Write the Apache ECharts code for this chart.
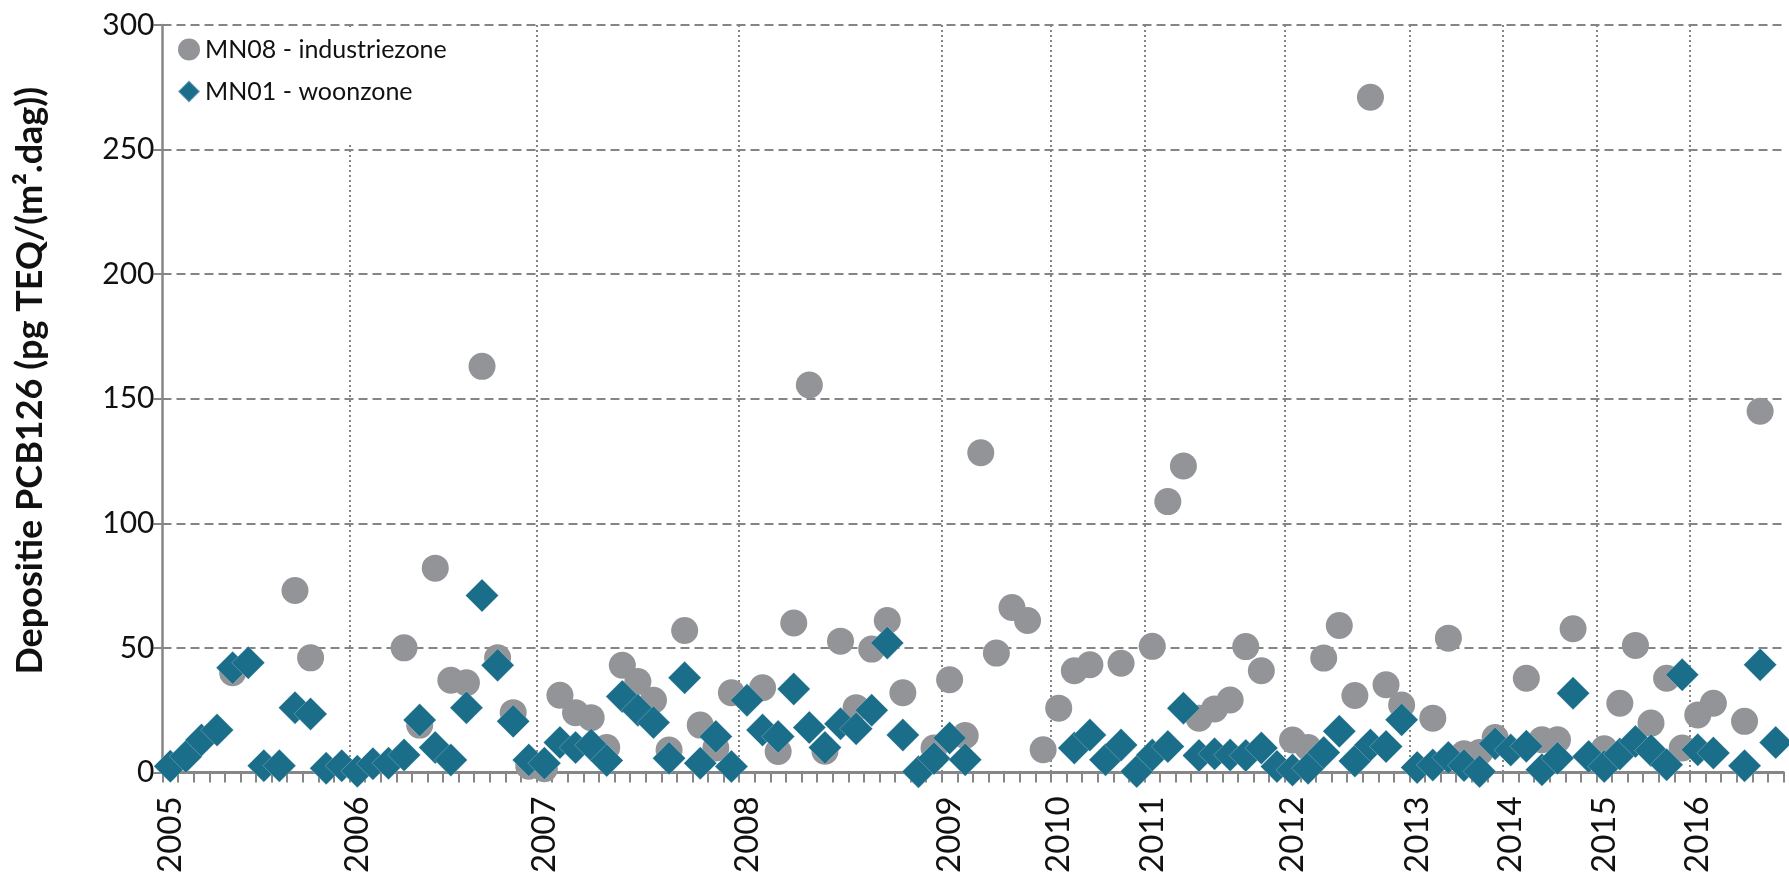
<!DOCTYPE html>
<html>
<head>
<meta charset="utf-8">
<script src="https://cdn.jsdelivr.net/npm/echarts@6/dist/echarts.min.js"></script>
<style>
  html, body { margin: 0; padding: 0; background: #ffffff; }
  #chart { width: 1789px; height: 876px; }
</style>
</head>
<body>
<div id="chart"></div>
<script>
// Sampling periods: the first period index of every calendar year, and the total count
const years          = [2005, 2006, 2007, 2008, 2009, 2010, 2011, 2012, 2013, 2014, 2015, 2016];
const yearStartIndex = [0,    12,   24,   37,   50,   57,   63,   72,   80,   86,   92,   98];
const periodCount = 104;

// Value axis ticks
const yMin = 0;
const yMax = 300;
const yStep = 50;

// Deposition PCB126 per sampling period (pg TEQ/(m².dag)); null = no measurement shown
const mn08 = [
  null, null, null, null, 40,   null, null, null, 73,   46,
  null, null, null, null, null, 50,   19,   82,   37,   36,
  163,  46,   24,   2.5,  1.5,  31,   24,   22,   10,   43,
  36.5, 29,   9,    57,   19,   9.8,  32,   null, 34,   8.4,
  60,   155.5,8.5,  52.7, 26,   49.5, 61,   32,   null, 9.8,
  37.2, 14.8, 128.3,47.9, 66.2, 61,   9.1,  25.8, 40.8, 43.2,
  null, 43.8, null, 50.6, 108.7,123,  21.8, 25.5, 29.1, 50.5,
  40.8, null, 13,   10,   45.9, 59,   30.9, 271,  35.2, 27.1,
  null, 21.8, 53.9, 7.5,  8,    14,   null, 37.8, 13.1, 13.1,
  57.7, null, 9.5,  27.8, 51,   19.8, 37.8, 9.8,  23.1, 27.8,
  null, 20.5, 145,  null
];
const mn01 = [
  2.5,  6.4,  13,   17,   42,   44,   2.7,  2.7,  26,   23.5,
  1.7,  2.7,  0.5,  3.5,  3.7,  7,    21,   10,   5,    26,
  71,   43,   20.5, 5,    3.7,  12,   10,   11,   4.8,  30.5,
  25,   20,   5.7,  38,   3.7,  14.4, 2.4,  29,   17,   14.4,
  33.5, 18,   10,   19.5, 17.5, 25,   52,   15,   0.3,  5.6,
  13.8, 5.1,  null, null, null, null, null, null, 9.8,  15,
  5.1,  11,   0.4,  7,    10.4, 25.8, 6.8,  7.5,  7,    6.8,
  9.8,  2.4,  1,    1.7,  8,    16.5, 4.6,  11,   10.4, 21.1,
  2,    3,    6,    2.8,  0.4,  11.5, 9,    10.5, 1.1,  5.7,
  31.8, 6.4,  2.4,  7.4,  12.4, 8.8,  3.1,  39.2, 9.1,  7.8,
  null, 2.7,  43.2, 12
];

// Category names "year-n" for every sampling period
const periods = [];
for (let i = 0; i < periodCount; i++) {
  let k = 0;
  while (k + 1 < yearStartIndex.length && yearStartIndex[k + 1] <= i) k++;
  periods.push(years[k] + '-' + (i - yearStartIndex[k] + 1));
}
const isYearStart = (index) => yearStartIndex.indexOf(index) !== -1;

const gridGrey = '#858585';
const axisGrey = '#868686';
const textBlack = '#111111';

const chart = echarts.init(document.getElementById('chart'), null, { renderer: 'canvas' });
chart.setOption({
  animation: false,
  backgroundColor: '#ffffff',
  textStyle: { fontFamily: 'Lato' },
  grid: { left: 162.5, right: 5.5, top: 25, bottom: 103.3 },
  legend: {
    orient: 'vertical',
    left: 166,
    top: 28,
    padding: [9, 20, 40, 11],
    backgroundColor: '#ffffff',
    itemWidth: 22,
    itemHeight: 22,
    itemGap: 17,
    itemTextGap: 6,
    textStyle: { fontFamily: 'Lato', fontSize: 25, color: textBlack },
    data: [
      { name: 'MN08 - industriezone', icon: 'circle' },
      { name: 'MN01 - woonzone', icon: 'diamond' }
    ]
  },
  xAxis: {
    type: 'category',
    data: periods,
    boundaryGap: true,
    axisLine: { show: true, lineStyle: { color: axisGrey, width: 3 } },
    axisTick: {
      show: true, interval: 0, alignWithLabel: false, length: 10, inside: false,
      lineStyle: { color: axisGrey, width: 2 }
    },
    axisLabel: {
      interval: (index) => isYearStart(index),
      rotate: 90,
      margin: 24,
      fontFamily: 'Lato',
      fontSize: 33,
      color: textBlack,
      formatter: (value) => value.split('-')[0]
    },
    splitLine: {
      show: true,
      interval: (index) => isYearStart(index),
      showMinLine: false,
      showMaxLine: false,
      lineStyle: { color: gridGrey, width: 2, type: [2, 3] }
    }
  },
  yAxis: {
    type: 'value',
    min: yMin,
    max: yMax,
    interval: yStep,
    name: 'Depositie PCB126 (pg TEQ/(m².dag))',
    nameLocation: 'middle',
    nameRotate: 90,
    nameGap: 114,
    nameTextStyle: {
      fontFamily: 'Lato', fontSize: 36, fontWeight: 'bold', color: textBlack,
      padding: [0, 0, 0, 36]
    },
    axisLine: { show: true, lineStyle: { color: axisGrey, width: 2.5 } },
    axisTick: { show: true, length: 9, lineStyle: { color: axisGrey, width: 2 } },
    axisLabel: { fontFamily: 'Lato', fontSize: 30, color: textBlack, margin: 8 },
    splitLine: { show: true, lineStyle: { color: gridGrey, width: 2, type: [9, 5] } }
  },
  series: [
    {
      name: 'MN08 - industriezone',
      type: 'scatter',
      symbol: 'circle',
      symbolSize: 27,
      data: mn08,
      itemStyle: { color: '#939497', opacity: 1 },
      emphasis: { disabled: true }
    },
    {
      name: 'MN01 - woonzone',
      type: 'scatter',
      symbol: 'diamond',
      symbolSize: 33,
      data: mn01,
      itemStyle: {
        color: '#1b6e8a', opacity: 1,
        borderColor: 'rgba(255,255,255,0.3)', borderWidth: 0.8
      },
      emphasis: { disabled: true }
    }
  ]
});
</script>
</body>
</html>
